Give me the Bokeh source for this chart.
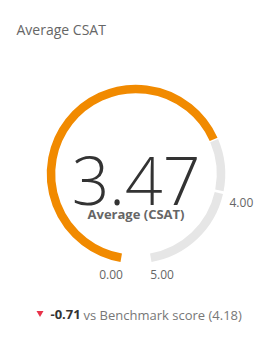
import math
from bokeh.plotting import figure
from bokeh.models import Range1d
from bokeh.core.properties import value
from bokeh.embed import file_html
from bokeh.resources import INLINE

# data
title = "Average CSAT"
score = 3.47
score_label = "Average (CSAT)"
min_val = 0.0
max_val = 5.0
target = 4.00
benchmark = 4.18
delta = round(score - benchmark, 2)

W, H = 271, 346
p = figure(width=W, height=H, output_backend="svg", toolbar_location=None,
           x_range=Range1d(0, W), y_range=Range1d(0, H), min_border=0)
p.axis.visible = False
p.grid.visible = False
p.outline_line_color = None
p.background_fill_color = "white"
p.border_fill_color = "white"

def Y(y):
    return H - y

def TB(y, fs):
    # baseline compensation (renderer places text bottom at descent)
    return H - (y - 0.235 * fs)

cx, cy, r = 135.5, 173.5, 85.0
gap = 20.0          # degrees of empty space at bottom
sweep = 360.0 - gap
start_cw = 180.0 + gap / 2   # clockwise from top

def ang(v):
    th = start_cw + (v - min_val) / (max_val - min_val) * sweep
    return math.radians(90.0 - th)

orange = "#F18A00"
grey = "#E6E6E6"
lw = 8.5

mg = math.radians(0.9)
p.arc(x=[cx], y=[Y(cy)], radius=r, start_angle=ang(score) - mg, end_angle=ang(target) + mg,
      direction="clock", line_color=grey, line_width=lw)
p.arc(x=[cx], y=[Y(cy)], radius=r, start_angle=ang(target) - mg, end_angle=ang(max_val),
      direction="clock", line_color=grey, line_width=lw)
p.arc(x=[cx], y=[Y(cy)], radius=r, start_angle=ang(min_val), end_angle=ang(score),
      direction="clock", line_color=orange, line_width=lw)

font = value("Open Sans")
p.text(x=[16], y=[TB(32, 14)], text=[title], text_font=font, text_font_size="14px",
       text_color="#666666", text_baseline="alphabetic", text_align="left")

p.text(x=[cx], y=[TB(196, 66)], text=[f"{score:.2f}"], text_font=value("Open Sans Light"),
       text_font_size="66px", text_color="#333333", text_baseline="alphabetic", text_align="center")
p.text(x=[cx], y=[TB(216.5, 13)], text=[score_label], text_font=font, text_font_size="13px",
       text_font_style="bold", text_color="#666666", text_baseline="alphabetic", text_align="center")

p.text(x=[229], y=[TB(205, 12)], text=[f"{target:.2f}"], text_font=font, text_font_size="12px",
       text_color="#666666", text_baseline="alphabetic", text_align="left")
p.text(x=[110.5], y=[TB(276.5, 12)], text=[f"{min_val:.2f}"], text_font=font, text_font_size="12px",
       text_color="#666666", text_baseline="alphabetic", text_align="center")
p.text(x=[161.5], y=[TB(276.5, 12)], text=[f"{max_val:.2f}"], text_font=font, text_font_size="12px",
       text_color="#666666", text_baseline="alphabetic", text_align="center")

p.scatter(x=[39.5], y=[Y(312.5)], marker="inverted_triangle", size=7, fill_color="#E8334A",
          line_color=None)
p.text(x=[50], y=[TB(317.5, 13)], text=[f"{delta:.2f}"], text_font=font, text_font_size="13px",
       text_font_style="bold", text_color="#333333", text_baseline="alphabetic", text_align="left")
p.text(x=[83], y=[TB(317.5, 13)], text=[f"vs Benchmark score ({benchmark:.2f})"], text_font=font,
       text_font_size="13px", text_color="#777777", text_baseline="alphabetic", text_align="left")

open("out.html", "w").write(file_html(p, INLINE))
